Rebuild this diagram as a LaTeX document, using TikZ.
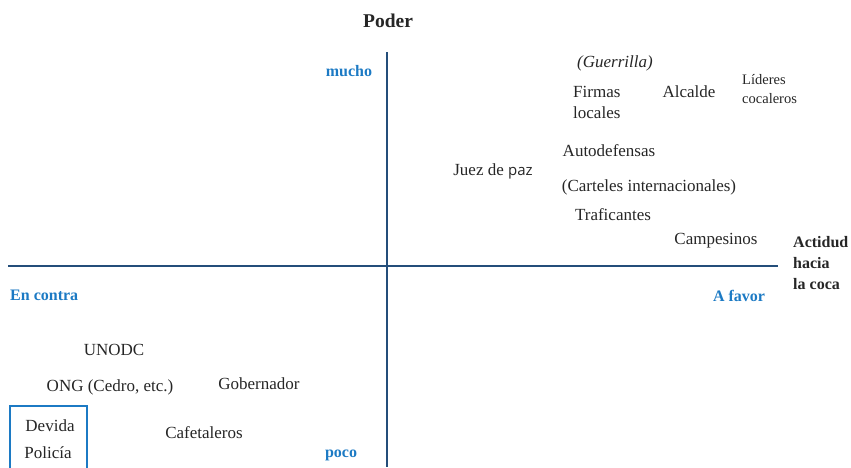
\documentclass[tikz,border=0pt]{standalone}
\usepackage{fontspec}
\setmainfont{Liberation Serif}
\newfontfamily\pazfont{Open Sans}
\definecolor{axiscol}{RGB}{36,78,122}
\definecolor{lblblue}{RGB}{28,122,196}
\tikzset{
  txt/.style={font=\fontsize{17}{21}\selectfont, inner sep=0pt, align=left, text=black!85},
  small/.style={font=\fontsize{14.5}{19}\selectfont, inner sep=0pt, align=left, text=black!85},
  bluelbl/.style={font=\fontsize{16}{20}\selectfont\bfseries, inner sep=0pt, text=lblblue},
  axisline/.style={draw=axiscol, line width=2.4pt},
  boxline/.style={draw=lblblue, line width=1.3pt},
}
\begin{document}
\begin{tikzpicture}[x=1pt,y=-1pt]
\useasboundingbox (0,0) rectangle (851,467);
% axes
\coordinate (vtop) at (387,52);
\coordinate (vbot) at (387,467);
\coordinate (hl) at (8,266);
\coordinate (hr) at (778,266);
\draw[axisline] (vtop) -- (vbot);
\draw[axisline] (hl) -- (hr);
% axis labels
\node[font=\fontsize{19.5}{22}\selectfont\bfseries, inner sep=0pt, text=black!85] (poder) at (388,21) {Poder};
\node[bluelbl] (mucho) at (349,71) {mucho};
\node[bluelbl] (poco) at (341,455) {poco};
\node[bluelbl, anchor=west] (encontra) at (10,295) {En contra};
\node[bluelbl] (afavor) at (739,296) {A favor};
\node[font=\fontsize{16}{21}\selectfont\bfseries, inner sep=0pt, align=left, text=black!85, anchor=north west] (actitud) at (793,236) {Actidud\\hacia\\la coca};
% actors
\node[txt, font=\fontsize{17}{21}\selectfont\itshape] (guerrilla) at (615,63) {(Guerrilla)};
\node[txt, anchor=north west] (firmas) at (573,86) {Firmas\\locales};
\node[txt] (alcalde) at (689,92) {Alcalde};
\node[small, anchor=north west] (lideres) at (742,74) {Líderes\\cocaleros};
\node[txt] (juez) at (493,171) {Juez de {\pazfont\fontsize{15}{21}\selectfont paz}};
\node[txt] (auto) at (609,151) {Autodefensas};
\node[txt] (carteles) at (649,187) {(Carteles internacionales)};
\node[txt] (traf) at (613,215) {Traficantes};
\node[txt] (camp) at (716,241) {Campesinos};
\node[txt] (unodc) at (114,350) {UNODC};
\node[txt] (ong) at (110,387) {ONG (Cedro, etc.)};
\node[txt] (gob) at (259,384) {Gobernador};
\node[txt] (cafe) at (204,433) {Cafetaleros};
\node[txt] (devida) at (50,426) {Devida};
\node[txt] (policia) at (48,453) {Policía};
% box
\coordinate (b1) at (10,470);
\coordinate (b2) at (10,406);
\coordinate (b3) at (87,406);
\coordinate (b4) at (87,470);
\draw[boxline] (b1) -- (b2) -- (b3) -- (b4);
\end{tikzpicture}
\end{document}
